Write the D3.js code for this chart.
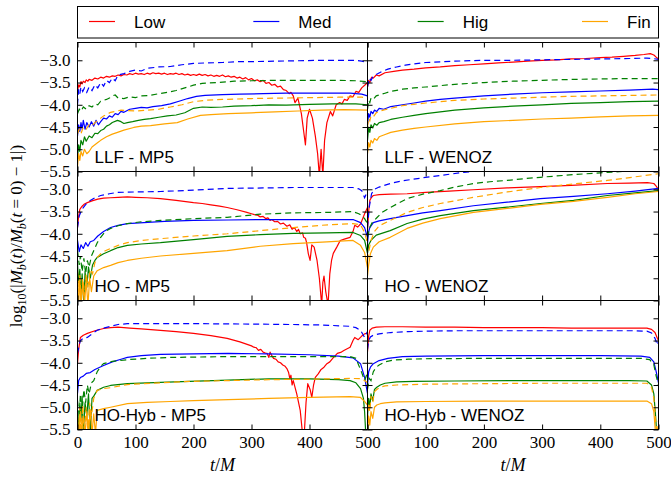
<!DOCTYPE html>
<html><head><meta charset="utf-8">
<script src="https://cdn.jsdelivr.net/npm/d3@7"></script>
<style>body{margin:0;background:#fff}</style>
</head><body>
<svg id="c" width="671" height="477"></svg>
<script>
const resolutions = ["Low","Med","Hig","Fin"];
const colors = ["#ff0000","#0000ff","#008000","#ffa500"];
const panelLabels = ["LLF - MP5","LLF - WENOZ","HO - MP5","HO - WENOZ","HO-Hyb - MP5","HO-Hyb - WENOZ"];
const xTicks = [0,100,200,300,400,500];
const yTicks = [-5.5,-5.0,-4.5,-4.0,-3.5,-3.0];
const xDomain = [0,500];
const yDomain = [-5.5,-2.6];

// ---- LLF - MP5 ----
const llfMp5Low = [[0,-3.70],[2,-3.55],[4,-3.60],[6,-3.48],[8,-3.53],[10,-3.47],[13,-3.50],[15,-3.44],[18,-3.47],[20,-3.43],[25,-3.45],[30,-3.40],[35,-3.42],[40,-3.38],[45,-3.40],[50,-3.36],[55,-3.38],[60,-3.35],[65,-3.36],[70,-3.33],[75,-3.35],[80,-3.32],[85,-3.33],[90,-3.30],[95,-3.32],[100,-3.29],[105,-3.31],[110,-3.30],[115,-3.32],[120,-3.29],[125,-3.31],[130,-3.28],[135,-3.30],[140,-3.29],[145,-3.31],[150,-3.29],[155,-3.32],[160,-3.30],[165,-3.31],[170,-3.29],[175,-3.32],[180,-3.30],[185,-3.33],[190,-3.31],[195,-3.34],[200,-3.32],[205,-3.34],[210,-3.31],[215,-3.34],[220,-3.32],[225,-3.35],[230,-3.33],[235,-3.36],[240,-3.34],[245,-3.36],[250,-3.33],[255,-3.37],[260,-3.35],[265,-3.38],[270,-3.36],[275,-3.40],[280,-3.38],[285,-3.42],[290,-3.39],[295,-3.44],[300,-3.41],[305,-3.46],[310,-3.44],[315,-3.48],[320,-3.45],[325,-3.52],[330,-3.50],[335,-3.56],[340,-3.54],[345,-3.60],[350,-3.58],[355,-3.66],[360,-3.68],[365,-3.75],[368,-3.72],[372,-3.80],[375,-3.95],[380,-3.85],[386,-4.20],[390,-4.60],[393,-4.90],[396,-4.30],[400,-4.10],[405,-4.30],[410,-4.70],[414,-5.10],[417,-5.60],[420,-5.00],[423,-5.60],[426,-4.80],[430,-4.40],[436,-4.15],[440,-4.25],[446,-4.00],[452,-3.95],[456,-3.98],[460,-3.88],[465,-3.90],[470,-3.80],[475,-3.82],[480,-3.70],[485,-3.72],[490,-3.62],[496,-3.55],[500,-3.50]];
const llfMp5Med = [[0,-4.70],[2,-4.45],[4,-4.60],[6,-4.40],[8,-4.55],[10,-4.35],[13,-4.55],[16,-4.40],[20,-4.50],[24,-4.38],[28,-4.48],[32,-4.35],[36,-4.45],[40,-4.38],[45,-4.30],[50,-4.32],[55,-4.25],[60,-4.28],[65,-4.20],[70,-4.22],[75,-4.15],[80,-4.17],[90,-4.10],[100,-4.08],[110,-4.06],[120,-4.07],[130,-4.04],[145,-4.02],[160,-3.98],[175,-3.92],[190,-3.86],[205,-3.81],[220,-3.79],[250,-3.77],[280,-3.76],[320,-3.75],[360,-3.74],[400,-3.74],[440,-3.74],[470,-3.74],[490,-3.76],[500,-3.80]];
const llfMp5MedDash = [[0,-4.00],[2,-3.65],[4,-3.75],[6,-3.60],[9,-3.70],[12,-3.62],[16,-3.72],[20,-3.60],[25,-3.68],[30,-3.55],[35,-3.62],[40,-3.50],[45,-3.58],[50,-3.45],[55,-3.50],[60,-3.40],[65,-3.46],[70,-3.33],[80,-3.30],[90,-3.25],[100,-3.22],[110,-3.24],[120,-3.18],[140,-3.15],[160,-3.14],[180,-3.10],[200,-3.07],[220,-3.06],[250,-3.05],[280,-3.03],[300,-3.03],[340,-3.02],[380,-3.01],[420,-3.00],[460,-3.00],[480,-3.00],[490,-3.02],[500,-3.05]];
const llfMp5Hig = [[0,-5.20],[2,-4.90],[4,-5.05],[6,-4.80],[9,-4.90],[12,-4.72],[15,-4.82],[20,-4.70],[25,-4.74],[30,-4.64],[35,-4.65],[40,-4.58],[45,-4.55],[50,-4.48],[55,-4.45],[60,-4.40],[69,-4.35],[75,-4.38],[80,-4.42],[86,-4.40],[95,-4.38],[105,-4.35],[115,-4.33],[126,-4.31],[140,-4.28],[155,-4.25],[170,-4.23],[185,-4.18],[200,-4.08],[215,-4.05],[230,-4.06],[250,-4.05],[270,-4.03],[300,-4.02],[330,-4.00],[360,-4.01],[400,-3.99],[440,-3.98],[480,-3.98],[500,-4.00]];
const llfMp5HigDash = [[0,-4.20],[3,-4.10],[6,-4.15],[10,-4.05],[15,-4.10],[20,-4.02],[25,-4.05],[30,-3.98],[35,-4.00],[40,-3.92],[50,-3.88],[55,-3.85],[60,-3.80],[65,-3.78],[70,-3.85],[80,-3.86],[90,-3.82],[100,-3.84],[110,-3.80],[125,-3.79],[140,-3.75],[155,-3.72],[170,-3.68],[185,-3.62],[200,-3.56],[215,-3.52],[240,-3.50],[270,-3.47],[300,-3.46],[350,-3.45],[400,-3.45],[450,-3.45],[480,-3.46],[500,-3.48]];
const llfMp5Fin = [[0,-5.40],[2,-5.10],[4,-5.25],[6,-5.05],[9,-5.15],[12,-5.00],[16,-5.10],[20,-5.05],[25,-4.95],[30,-4.90],[35,-4.85],[40,-4.80],[50,-4.72],[60,-4.66],[69,-4.62],[80,-4.57],[97,-4.51],[110,-4.48],[126,-4.47],[150,-4.43],[172,-4.40],[190,-4.32],[212,-4.24],[230,-4.22],[260,-4.20],[300,-4.18],[340,-4.16],[380,-4.14],[420,-4.12],[460,-4.11],[500,-4.12]];
const llfMp5FinDash = [[0,-4.65],[3,-4.55],[6,-4.65],[10,-4.50],[15,-4.55],[20,-4.45],[25,-4.48],[30,-4.40],[35,-4.35],[40,-4.30],[45,-4.25],[50,-4.22],[57,-4.17],[65,-4.15],[75,-4.12],[86,-4.13],[100,-4.14],[120,-4.12],[140,-4.10],[160,-4.05],[180,-4.00],[200,-3.93],[220,-3.90],[250,-3.88],[300,-3.86],[350,-3.85],[400,-3.84],[450,-3.83],[490,-3.83],[500,-3.85]];

// ---- LLF - WENOZ ----
const llfWenoLow = [[0,-3.60],[2,-3.45],[4,-3.50],[7,-3.38],[10,-3.40],[15,-3.33],[20,-3.35],[30,-3.28],[45,-3.25],[60,-3.22],[80,-3.20],[100,-3.17],[125,-3.15],[150,-3.12],[175,-3.10],[200,-3.08],[225,-3.06],[250,-3.04],[275,-3.02],[300,-3.00],[325,-2.99],[350,-2.97],[375,-2.96],[400,-2.94],[420,-2.93],[440,-2.91],[460,-2.89],[475,-2.87],[486,-2.85],[492,-2.88],[496,-2.93],[500,-2.97]];
const llfWenoMedDash = [[0,-3.60],[3,-3.40],[6,-3.45],[10,-3.35],[15,-3.32],[25,-3.25],[35,-3.20],[50,-3.15],[65,-3.11],[80,-3.08],[100,-3.05],[150,-3.02],[200,-3.00],[250,-3.00],[300,-2.99],[350,-2.98],[400,-2.97],[450,-2.96],[480,-2.95],[490,-2.96],[500,-2.98]];
const llfWenoMed = [[0,-4.45],[2,-4.20],[4,-4.28],[6,-4.15],[9,-4.20],[12,-4.12],[16,-4.15],[20,-4.08],[28,-4.10],[40,-4.04],[60,-4.00],[80,-3.96],[100,-3.92],[125,-3.88],[150,-3.85],[200,-3.80],[250,-3.76],[300,-3.73],[350,-3.71],[400,-3.69],[450,-3.67],[490,-3.65],[500,-3.66]];
const llfWenoHigDash = [[0,-4.10],[2,-3.90],[4,-3.95],[6,-3.85],[10,-3.88],[15,-3.80],[20,-3.78],[30,-3.74],[40,-3.70],[60,-3.65],[80,-3.62],[100,-3.60],[150,-3.54],[200,-3.50],[250,-3.47],[300,-3.45],[350,-3.43],[400,-3.42],[450,-3.41],[500,-3.41]];
const llfWenoHig = [[0,-4.80],[2,-4.50],[4,-4.62],[6,-4.45],[9,-4.52],[12,-4.42],[16,-4.46],[20,-4.40],[28,-4.38],[40,-4.33],[60,-4.28],[80,-4.24],[100,-4.20],[150,-4.12],[200,-4.07],[250,-4.03],[300,-4.00],[350,-3.97],[400,-3.95],[450,-3.93],[500,-3.92]];
const llfWenoFinDash = [[0,-4.50],[2,-4.30],[4,-4.36],[6,-4.25],[10,-4.27],[15,-4.18],[20,-4.15],[30,-4.11],[40,-4.08],[60,-4.02],[80,-3.99],[100,-3.96],[150,-3.90],[200,-3.87],[250,-3.85],[300,-3.83],[350,-3.81],[400,-3.80],[450,-3.79],[500,-3.78]];
const llfWenoFin = [[0,-5.10],[2,-4.85],[4,-4.95],[6,-4.80],[9,-4.86],[12,-4.76],[16,-4.80],[20,-4.72],[28,-4.68],[40,-4.62],[60,-4.57],[80,-4.53],[100,-4.50],[150,-4.43],[200,-4.38],[250,-4.35],[300,-4.32],[350,-4.30],[400,-4.27],[450,-4.25],[500,-4.24]];

// ---- HO - MP5 ----
const hoMp5Low = [[0,-3.86],[2,-3.60],[4,-3.45],[8,-3.38],[12,-3.33],[17,-3.30],[25,-3.26],[35,-3.22],[45,-3.20],[57,-3.19],[70,-3.18],[86,-3.17],[100,-3.18],[120,-3.19],[143,-3.21],[170,-3.25],[200,-3.30],[215,-3.32],[230,-3.35],[245,-3.38],[258,-3.41],[275,-3.46],[292,-3.52],[300,-3.55],[305,-3.57],[310,-3.58],[315,-3.62],[320,-3.61],[325,-3.66],[328,-3.64],[332,-3.70],[335,-3.68],[340,-3.73],[345,-3.72],[350,-3.78],[355,-3.76],[361,-3.83],[366,-3.80],[370,-3.90],[374,-3.86],[378,-3.95],[381,-3.90],[384,-4.00],[388,-3.98],[390,-4.08],[393,-4.10],[395,-4.20],[398,-4.45],[401,-4.60],[404,-4.25],[408,-4.30],[413,-4.60],[417,-5.00],[421,-5.60],[423,-5.10],[425,-4.95],[428,-5.30],[432,-5.60],[435,-4.90],[438,-4.60],[441,-4.44],[447,-4.30],[453,-4.15],[460,-4.12],[470,-4.08],[475,-3.95],[478,-3.81],[483,-3.85],[488,-3.78],[492,-3.65],[495,-3.55],[500,-3.41]];
const hoMp5Med = [[0,-4.15],[3,-4.40],[6,-4.25],[10,-4.33],[14,-4.20],[18,-4.28],[22,-4.18],[28,-4.15],[35,-4.05],[45,-3.95],[57,-3.86],[70,-3.81],[86,-3.77],[114,-3.75],[150,-3.72],[200,-3.70],[260,-3.69],[315,-3.68],[400,-3.68],[475,-3.68],[488,-3.75],[495,-3.86],[500,-4.08]];
const hoMp5MedDash = [[0,-3.86],[3,-3.60],[6,-3.50],[10,-3.41],[15,-3.33],[22,-3.25],[30,-3.19],[40,-3.14],[55,-3.10],[69,-3.07],[100,-3.06],[143,-3.05],[200,-3.02],[258,-2.98],[320,-2.97],[372,-2.96],[420,-2.96],[475,-2.96],[485,-2.99],[490,-3.03],[495,-3.19],[498,-3.10],[500,-3.05]];
const hoMp5Hig = [[0,-4.67],[2,-5.10],[4,-4.80],[6,-5.40],[8,-4.90],[11,-5.60],[13,-4.85],[16,-5.20],[19,-4.75],[22,-5.00],[26,-4.70],[30,-4.60],[34,-4.53],[45,-4.45],[57,-4.38],[70,-4.31],[86,-4.26],[110,-4.23],[143,-4.20],[200,-4.13],[258,-4.06],[315,-4.02],[372,-3.99],[430,-3.98],[475,-3.97],[488,-4.04],[495,-4.15],[500,-4.44]];
const hoMp5HigDash = [[0,-4.38],[3,-4.70],[5,-4.50],[8,-4.85],[11,-4.55],[14,-4.90],[17,-4.60],[20,-4.75],[24,-4.50],[28,-4.38],[34,-4.20],[40,-4.08],[48,-3.95],[57,-3.88],[70,-3.82],[86,-3.77],[110,-3.73],[143,-3.70],[200,-3.66],[258,-3.63],[315,-3.56],[370,-3.53],[430,-3.52],[475,-3.50],[485,-3.55],[490,-3.59],[495,-3.66],[500,-3.77]];
const hoMp5Fin = [[0,-5.20],[2,-5.60],[4,-5.00],[6,-5.60],[9,-5.10],[12,-5.60],[15,-5.05],[18,-5.60],[21,-5.00],[24,-5.30],[28,-4.95],[34,-4.83],[45,-4.76],[57,-4.71],[70,-4.65],[86,-4.60],[110,-4.55],[143,-4.50],[200,-4.44],[258,-4.38],[315,-4.28],[372,-4.22],[430,-4.18],[475,-4.15],[488,-4.26],[495,-4.42],[500,-4.76]];
const hoMp5FinDash = [[0,-4.83],[2,-5.30],[4,-4.90],[6,-5.60],[9,-5.00],[12,-5.40],[15,-4.90],[18,-5.20],[22,-4.80],[26,-4.90],[30,-4.65],[34,-4.53],[40,-4.45],[48,-4.38],[57,-4.33],[70,-4.26],[86,-4.20],[110,-4.15],[143,-4.11],[200,-4.05],[258,-4.00],[315,-3.93],[372,-3.86],[420,-3.81],[475,-3.77],[488,-3.80],[495,-3.97],[500,-4.22]];

// ---- HO - WENOZ ----
const hoWenoLow = [[0,-3.93],[2,-3.50],[4,-3.25],[7,-3.18],[10,-3.14],[20,-3.12],[40,-3.11],[68,-3.10],[100,-3.07],[140,-3.04],[182,-3.01],[240,-2.97],[297,-2.94],[350,-2.91],[412,-2.87],[450,-2.86],[481,-2.85],[492,-2.87],[496,-2.93],[500,-3.01]];
const hoWenoMed = [[0,-4.22],[2,-3.95],[4,-3.86],[10,-3.75],[20,-3.71],[39,-3.66],[68,-3.59],[95,-3.53],[125,-3.48],[182,-3.37],[240,-3.29],[297,-3.21],[354,-3.16],[412,-3.10],[460,-3.04],[500,-2.98]];
const hoWenoMedDash = [[0,-3.86],[3,-3.40],[7,-3.10],[12,-3.00],[20,-2.95],[39,-2.87],[60,-2.81],[96,-2.74],[130,-2.68],[165,-2.62],[200,-2.57],[260,-2.50],[350,-2.42],[500,-2.32]];
const hoWenoHig = [[0,-4.44],[2,-4.25],[6,-4.15],[15,-4.03],[39,-3.93],[68,-3.77],[95,-3.67],[125,-3.59],[182,-3.48],[240,-3.40],[297,-3.32],[354,-3.25],[412,-3.14],[460,-3.08],[500,-3.03]];
const hoWenoHigDash = [[0,-4.08],[4,-3.85],[8,-3.75],[16,-3.64],[25,-3.52],[39,-3.41],[55,-3.30],[68,-3.21],[95,-3.11],[125,-3.03],[150,-2.95],[182,-2.87],[210,-2.83],[240,-2.80],[270,-2.76],[297,-2.73],[354,-2.67],[400,-2.63],[450,-2.59],[500,-2.55]];
const hoWenoFin = [[0,-4.95],[2,-4.70],[5,-4.45],[10,-4.30],[20,-4.18],[39,-4.08],[68,-3.88],[95,-3.76],[125,-3.66],[182,-3.52],[240,-3.43],[297,-3.34],[354,-3.27],[412,-3.18],[460,-3.10],[500,-3.05]];
const hoWenoFinDash = [[0,-4.60],[3,-4.35],[6,-4.15],[12,-3.95],[20,-3.82],[39,-3.70],[68,-3.52],[95,-3.41],[125,-3.32],[150,-3.26],[182,-3.18],[240,-3.06],[297,-2.96],[354,-2.88],[412,-2.80],[460,-2.72],[500,-2.65]];

// ---- HO-Hyb - MP5 ----
const hybMp5Low = [[0,-4.02],[2,-3.70],[5,-3.43],[10,-3.38],[17,-3.34],[30,-3.28],[45,-3.23],[57,-3.21],[70,-3.20],[90,-3.22],[110,-3.24],[143,-3.27],[170,-3.30],[200,-3.34],[230,-3.39],[258,-3.45],[280,-3.53],[300,-3.62],[304,-3.65],[308,-3.66],[312,-3.72],[316,-3.70],[320,-3.76],[324,-3.78],[327,-3.79],[330,-3.88],[332,-3.76],[335,-3.84],[338,-3.90],[342,-3.92],[346,-3.98],[350,-4.00],[354,-4.05],[358,-4.08],[361,-4.13],[364,-4.22],[366,-4.35],[368,-4.28],[370,-4.50],[372,-4.40],[378,-4.70],[384,-5.07],[388,-5.60],[391,-5.60],[394,-4.90],[397,-4.47],[401,-4.60],[404,-4.78],[407,-4.50],[410,-4.33],[415,-4.25],[420,-4.15],[425,-4.10],[430,-4.02],[435,-3.98],[440,-3.90],[448,-3.79],[455,-3.76],[460,-3.72],[470,-3.65],[475,-3.50],[478,-3.43],[484,-3.48],[490,-3.40],[495,-3.35],[500,-3.33]];
const hybMp5Med = [[0,-4.69],[2,-4.40],[5,-4.33],[10,-4.30],[15,-4.24],[22,-4.22],[30,-4.15],[45,-4.06],[60,-3.98],[75,-3.92],[86,-3.88],[110,-3.84],[143,-3.81],[200,-3.80],[260,-3.79],[327,-3.80],[400,-3.82],[450,-3.85],[475,-3.89],[488,-4.02],[495,-4.33],[500,-4.69]];
const hybMp5MedDash = [[0,-3.79],[3,-3.60],[5,-3.50],[10,-3.45],[17,-3.43],[25,-3.35],[34,-3.27],[45,-3.22],[57,-3.18],[70,-3.14],[86,-3.12],[150,-3.12],[200,-3.12],[300,-3.13],[372,-3.14],[420,-3.15],[470,-3.18],[480,-3.21],[488,-3.27],[495,-3.43],[500,-3.30]];
const hybMp5Hig = [[0,-5.07],[2,-5.60],[4,-4.90],[6,-5.30],[8,-4.75],[10,-5.60],[13,-4.90],[16,-5.20],[19,-4.70],[22,-5.60],[25,-4.80],[28,-4.75],[34,-4.62],[45,-4.55],[57,-4.51],[86,-4.47],[143,-4.44],[193,-4.42],[260,-4.39],[330,-4.36],[400,-4.36],[450,-4.38],[470,-4.40],[480,-4.45],[488,-4.58],[493,-4.80],[495,-5.10],[497,-5.60],[500,-5.60]];
const hybMp5HigDash = [[0,-4.85],[3,-5.20],[5,-4.70],[8,-5.10],[11,-4.60],[14,-4.90],[17,-4.50],[20,-4.70],[24,-4.45],[28,-4.40],[34,-4.20],[40,-4.08],[45,-4.02],[60,-3.97],[86,-3.93],[120,-3.90],[160,-3.88],[260,-3.86],[350,-3.86],[470,-3.86],[480,-3.90],[490,-4.22],[495,-4.40],[500,-4.22]];
const hybMp5Fin = [[0,-5.30],[2,-5.60],[5,-5.10],[7,-5.60],[10,-5.20],[13,-5.60],[16,-5.10],[19,-5.60],[22,-5.05],[25,-5.60],[28,-5.15],[31,-5.60],[34,-5.07],[45,-5.03],[57,-5.00],[86,-4.92],[120,-4.89],[160,-4.87],[200,-4.85],[260,-4.83],[330,-4.80],[400,-4.78],[470,-4.76],[488,-4.78],[495,-4.87],[500,-4.95]];
const hybMp5FinDash = [[0,-5.23],[2,-5.60],[4,-5.00],[6,-5.60],[9,-4.95],[12,-5.60],[15,-5.00],[18,-5.60],[21,-4.90],[24,-5.20],[28,-4.80],[34,-4.62],[45,-4.58],[57,-4.56],[86,-4.49],[143,-4.45],[193,-4.42],[260,-4.40],[330,-4.38],[400,-4.37],[470,-4.35],[490,-4.36],[495,-4.40],[500,-4.45]];

// ---- HO-Hyb - WENOZ ----
const hybWenoLow = [[0,-3.75],[2,-3.40],[4,-3.27],[8,-3.22],[15,-3.20],[30,-3.19],[60,-3.19],[100,-3.20],[150,-3.20],[200,-3.21],[250,-3.21],[300,-3.21],[350,-3.22],[400,-3.22],[450,-3.22],[480,-3.22],[488,-3.25],[494,-3.32],[498,-3.45],[500,-3.50]];
const hybWenoMed = [[0,-4.50],[2,-4.20],[5,-4.10],[10,-4.02],[20,-3.95],[35,-3.90],[60,-3.86],[100,-3.85],[200,-3.84],[300,-3.84],[400,-3.84],[470,-3.85],[485,-3.88],[492,-3.98],[496,-4.20],[500,-4.45]];
const hybWenoMedDash = [[0,-3.70],[2,-3.50],[5,-3.42],[10,-3.38],[20,-3.35],[40,-3.32],[70,-3.30],[100,-3.29],[150,-3.28],[200,-3.28],[300,-3.28],[400,-3.28],[460,-3.28],[480,-3.29],[488,-3.33],[494,-3.45],[498,-3.60],[500,-3.50]];
const hybWenoHig = [[0,-5.20],[2,-4.80],[4,-5.00],[6,-4.70],[9,-4.85],[12,-4.60],[16,-4.55],[22,-4.50],[30,-4.46],[50,-4.43],[80,-4.42],[150,-4.41],[250,-4.40],[350,-4.40],[450,-4.40],[480,-4.41],[488,-4.50],[492,-4.70],[495,-5.20],[497,-5.60],[500,-5.60]];
const hybWenoHigDash = [[0,-4.60],[3,-4.35],[6,-4.40],[10,-4.20],[15,-4.10],[20,-4.05],[30,-3.98],[45,-3.94],[70,-3.92],[100,-3.91],[200,-3.90],[300,-3.90],[400,-3.90],[470,-3.90],[485,-3.93],[492,-4.05],[496,-4.30],[500,-4.50]];
const hybWenoFin = [[0,-5.60],[2,-5.20],[4,-5.40],[6,-5.10],[9,-5.25],[12,-5.00],[16,-4.95],[22,-4.92],[30,-4.90],[50,-4.88],[100,-4.87],[200,-4.86],[300,-4.86],[400,-4.86],[480,-4.86],[488,-4.92],[492,-5.10],[495,-5.60],[500,-5.60]];
const hybWenoFinDash = [[0,-5.30],[2,-4.90],[4,-5.10],[6,-4.75],[9,-4.90],[12,-4.65],[16,-4.60],[22,-4.55],[30,-4.52],[50,-4.50],[100,-4.48],[200,-4.47],[300,-4.46],[400,-4.46],[480,-4.46],[488,-4.55],[492,-4.80],[495,-5.30],[498,-5.60],[500,-5.30]];

const panels = [
  {solid:[llfMp5Low,llfMp5Med,llfMp5Hig,llfMp5Fin], dashed:[null,llfMp5MedDash,llfMp5HigDash,llfMp5FinDash]},
  {solid:[llfWenoLow,llfWenoMed,llfWenoHig,llfWenoFin], dashed:[null,llfWenoMedDash,llfWenoHigDash,llfWenoFinDash]},
  {solid:[hoMp5Low,hoMp5Med,hoMp5Hig,hoMp5Fin], dashed:[null,hoMp5MedDash,hoMp5HigDash,hoMp5FinDash]},
  {solid:[hoWenoLow,hoWenoMed,hoWenoHig,hoWenoFin], dashed:[null,hoWenoMedDash,hoWenoHigDash,hoWenoFinDash]},
  {solid:[hybMp5Low,hybMp5Med,hybMp5Hig,hybMp5Fin], dashed:[null,hybMp5MedDash,hybMp5HigDash,hybMp5FinDash]},
  {solid:[hybWenoLow,hybWenoMed,hybWenoHig,hybWenoFin], dashed:[null,hybWenoMedDash,hybWenoHigDash,hybWenoFinDash]}
];

const svg = d3.select("#c");
const colX = [[77.5,367.5],[367.5,658.5]];
const rowY = [[42.5,171.5],[171.5,300.5],[300.5,429.5]];
const tickFont = "'Liberation Serif', 'Times New Roman', serif";
const sansFont = "'Liberation Sans', Arial, sans-serif";
const defs = svg.append("defs");

panels.forEach((p,i)=>{
  const c=i%2, r=Math.floor(i/2);
  const x=d3.scaleLinear().domain(xDomain).range(colX[c]);
  const y=d3.scaleLinear().domain(yDomain).range([rowY[r][1],rowY[r][0]]);
  const id="clip"+i;
  defs.append("clipPath").attr("id",id).append("rect")
    .attr("x",colX[c][0]).attr("y",rowY[r][0])
    .attr("width",colX[c][1]-colX[c][0]).attr("height",rowY[r][1]-rowY[r][0]);
  const g=svg.append("g");
  const lg=g.append("g").attr("clip-path",`url(#${id})`);
  const line=d3.line().x(d=>x(d[0])).y(d=>y(d[1]));
  resolutions.forEach((res,k)=>{
    lg.append("path").attr("d",line(p.solid[k])).attr("fill","none")
      .attr("stroke",colors[k]).attr("stroke-width",1.2).attr("stroke-linejoin","round");
    if(p.dashed[k]) lg.append("path").attr("d",line(p.dashed[k])).attr("fill","none")
      .attr("stroke",colors[k]).attr("stroke-width",1.2).attr("stroke-dasharray","6,4");
  });
  g.append("rect").attr("x",colX[c][0]).attr("y",rowY[r][0])
    .attr("width",colX[c][1]-colX[c][0]).attr("height",rowY[r][1]-rowY[r][0])
    .attr("fill","none").attr("stroke","#000").attr("stroke-width",1);
  const bottomAxis=d3.axisBottom(x).tickValues(xTicks).tickSize(-5).tickPadding(6)
    .tickFormat(r===2 ? (d=>(c===1&&d===0)?"":d3.format("d")(d)) : (()=> ""));
  const ax1=g.append("g").attr("transform",`translate(0,${rowY[r][1]})`).call(bottomAxis);
  const ax2=g.append("g").attr("transform",`translate(0,${rowY[r][0]})`)
    .call(d3.axisTop(x).tickValues(xTicks).tickSize(-5).tickFormat(()=>""));
  const ax3=g.append("g").attr("transform",`translate(${colX[c][0]},0)`)
    .call(d3.axisLeft(y).tickValues(yTicks).tickSize(-5).tickPadding(7)
      .tickFormat(c===0 ? d3.format(".1f") : (()=>"")));
  const ax4=g.append("g").attr("transform",`translate(${colX[c][1]},0)`)
    .call(d3.axisRight(y).tickValues(yTicks).tickSize(-5).tickFormat(()=>""));
  [ax1,ax2,ax3,ax4].forEach(a=>{
    a.select(".domain").remove();
    a.selectAll("line").attr("stroke","#000");
    a.selectAll("text").attr("font-family",tickFont).attr("font-size",17).attr("fill","#000");
  });
  g.append("text").attr("x",colX[c][0]+17).attr("y",rowY[r][1]-8.5)
    .attr("font-family",sansFont).attr("font-size",17).attr("fill","#000").text(panelLabels[i]);
});

// legend
const lgd=svg.append("g");
lgd.append("rect").attr("x",77.5).attr("y",6.5).attr("width",581).attr("height",31.5)
  .attr("fill","#fff").attr("stroke","#000").attr("stroke-width",1);
const legX=d3.scaleLinear().domain([0,3]).range([89,582]);
resolutions.forEach((res,k)=>{
  const x0=legX(k);
  lgd.append("line").attr("x1",x0).attr("x2",x0+26).attr("y1",21.5).attr("y2",21.5)
    .attr("stroke",colors[k]).attr("stroke-width",1.2);
  lgd.append("text").attr("x",x0+45).attr("y",28).attr("font-family",sansFont)
    .attr("font-size",17).attr("fill","#000").text(res);
});

// axis labels
[0,1].forEach(c=>{
  const t=svg.append("text").attr("x",(colX[c][0]+colX[c][1])/2).attr("y",471)
    .attr("text-anchor","middle").attr("font-family",tickFont).attr("font-size",18).attr("fill","#000");
  t.append("tspan").attr("font-style","italic").text("t");
  t.append("tspan").text("/");
  t.append("tspan").attr("font-style","italic").text("M");
});
const yl=svg.append("text").attr("transform","translate(22,236) rotate(-90)")
  .attr("text-anchor","middle").attr("font-family",tickFont).attr("font-size",17).attr("fill","#000");
const parts=[["log",""],["10","sub"],["(|",""],["M","i"],["b","sub"],["(",""],["t","i"],[")/",""],["M","i"],["b","sub"],["(",""],["t","i"],[" = 0) − 1|)",""]];
let prevSub=false;
parts.forEach(([s,st])=>{
  const ts=yl.append("tspan").text(s);
  if(st==="i") ts.attr("font-style","italic");
  if(st==="sub"){ ts.attr("font-size",12).attr("dy",4); if(s==="b") ts.attr("font-style","italic"); prevSub=true; }
  else if(prevSub){ ts.attr("dy",-4); prevSub=false; }
});
</script>
</body></html>
